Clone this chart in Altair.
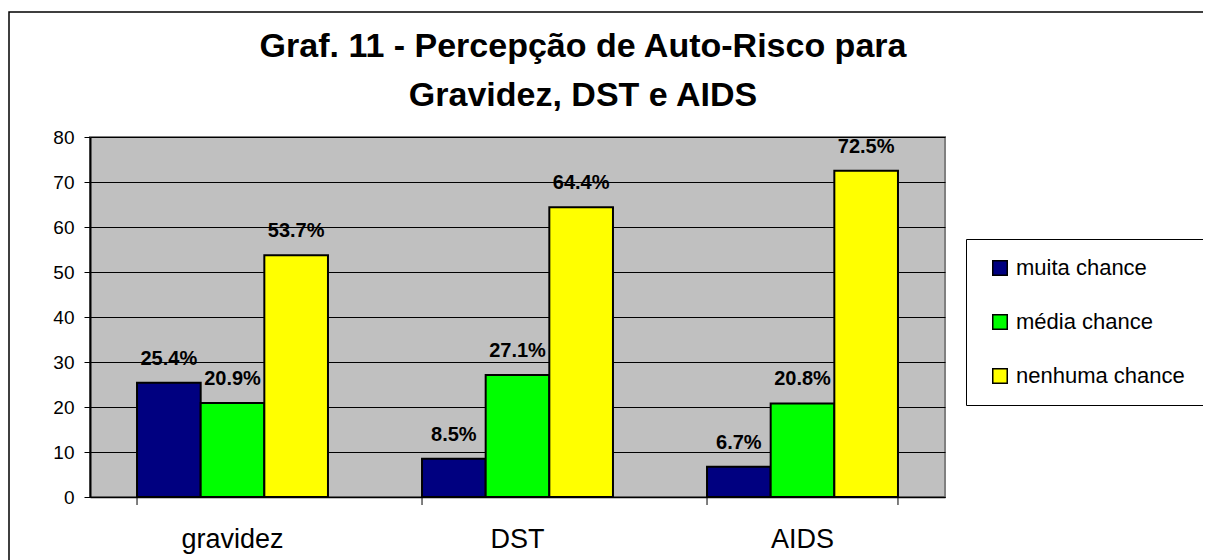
import altair as alt
import pandas as pd

categorias = ["gravidez", "DST", "AIDS"]
series = ["muita chance", "média chance", "nenhuma chance"]
muita_chance = [25.4, 8.5, 6.7]
media_chance = [20.9, 27.1, 20.8]
nenhuma_chance = [53.7, 64.4, 72.5]
cores = ["#000080", "#00FF00", "#FFFF00"]
y_ticks = [0, 10, 20, 30, 40, 50, 60, 70, 80]
titulo = ["Graf. 11 - Percepção de Auto-Risco para", "Gravidez, DST e AIDS"]

FONT = "Liberation Sans"

rows = []
for serie, vals in zip(series, [muita_chance, media_chance, nenhuma_chance]):
    for cat, v in zip(categorias, vals):
        rows.append({"categoria": cat, "serie": serie, "valor": v, "rotulo": f"{v:.1f}%"})
df = pd.DataFrame(rows)

x_enc = alt.X(
    "categoria:N",
    sort=categorias,
    scale=alt.Scale(paddingInner=0.33, paddingOuter=0.165),
    axis=alt.Axis(
        title=None, labelAngle=0, labelFontSize=27, labelColor="#000", labelFont=FONT,
        labelPadding=29, ticks=False, tickSize=0, domainColor="#000", domainWidth=1.5, grid=False,
    ),
)
xoff = alt.XOffset("serie:N", sort=series, scale=alt.Scale(paddingInner=0, paddingOuter=0))
y_enc = alt.Y(
    "valor:Q",
    scale=alt.Scale(domain=[0, 80], nice=False),
    axis=alt.Axis(
        values=y_ticks, title=None, grid=True, gridColor="#000", gridWidth=1, gridOpacity=1,
        tickSize=6, tickColor="#000", tickWidth=1, domainColor="#000", domainWidth=2,
        labelFontSize=19, labelColor="#000", labelFont=FONT, labelPadding=10,
    ),
)

base = alt.Chart(df)

bars = base.mark_bar(stroke="#000", strokeWidth=2).encode(
    x=x_enc,
    xOffset=xoff,
    y=y_enc,
    color=alt.Color(
        "serie:N", sort=series,
        scale=alt.Scale(domain=series, range=cores),
        legend=alt.Legend(
            title=None, orient="none", legendX=876, legendY=102,
            labelFontSize=22, labelFont=FONT, labelColor="#000", labelLimit=400,
            symbolType="square", symbolSize=210, symbolStrokeColor="#000",
            symbolStrokeWidth=1.5, symbolOpacity=1, symbolOffset=5, labelOffset=5,
            rowPadding=32, padding=18, strokeColor="#000", fillColor="white",
        ),
    ),
)

labels = base.mark_text(
    fontSize=20, fontWeight="bold", font=FONT, color="#000", baseline="alphabetic", dy=-18
).encode(x=x_enc, xOffset=xoff, y="valor:Q", text="rotulo:N")

tick_df = pd.DataFrame({"categoria": categorias})
ticks_start = alt.Chart(tick_df).mark_rule(color="#000", strokeWidth=1).encode(
    x=alt.X("categoria:N", sort=categorias, bandPosition=0),
    y=alt.value(360), y2=alt.value(368),
)
ticks_end = alt.Chart(tick_df).transform_filter(
    alt.datum.categoria == categorias[-1]
).mark_rule(color="#000", strokeWidth=1).encode(
    x=alt.X("categoria:N", sort=categorias, bandPosition=1),
    y=alt.value(360), y2=alt.value(368),
)

one = pd.DataFrame({"k": [0]})
border = alt.Chart(one).mark_rect(
    fill="transparent", stroke="#000", strokeWidth=1.5
).encode(x=alt.value(-81), x2=alt.value(1300), y=alt.value(-125), y2=alt.value(600))

title_text = alt.Chart(one).mark_text(
    fontSize=34, fontWeight="bold", font=FONT, color="#000", align="center",
    baseline="alphabetic", lineHeight=49,
).encode(x=alt.value(493), y=alt.value(-80), text=alt.value(titulo))

chart = alt.layer(border, title_text, bars, labels, ticks_start, ticks_end).properties(
    width=855, height=360,
    autosize=alt.AutoSizeParams(type="none"),
    padding={"left": 82, "top": 129, "right": 258, "bottom": 63},
    background="white",
).configure_view(fill="#C0C0C0", stroke="#808080", strokeWidth=2)

chart.save("out.html", embed_options={"renderer": "svg", "actions": False})
